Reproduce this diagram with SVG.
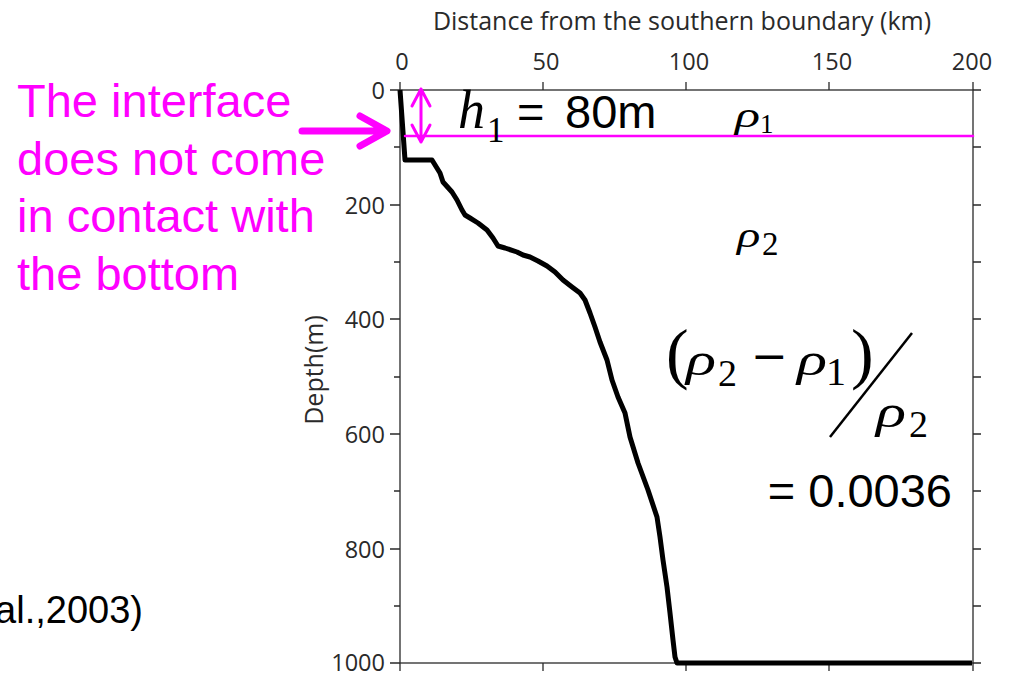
<svg xmlns="http://www.w3.org/2000/svg" width="1009" height="676" viewBox="0 0 1009 676">
<style>
.ax{stroke:#2a2a2a;stroke-width:1.3;fill:none}
.tk{font-family:"Open Sans","Noto Sans",sans-serif;font-size:23.5px;fill:#2a2a2a}
.ttl{font-family:"Open Sans","Noto Sans",sans-serif;font-size:25px;fill:#2a2a2a}
.mag{font-family:"Liberation Sans",Arial,sans-serif;font-size:47px;fill:#ff00ff}
.sans{font-family:"Liberation Sans",Arial,sans-serif;fill:#000}
.it{font-family:"Liberation Serif","Times New Roman",serif;font-style:italic;fill:#000}
.rm{font-family:"Liberation Serif","Times New Roman",serif;fill:#000}
.mline{stroke:#ff00ff;fill:none;stroke-linecap:round;stroke-linejoin:round}
</style>
<rect width="1009" height="676" fill="#fff"/>
<g id="axes">
  <rect class="ax" x="400" y="90" width="573" height="573"/>
  <path class="ax" d="M400 90V82M543 90V82M686 90V82M829 90V82M973 90V82
    M400 663V671M543 663V671M686 663V671M829 663V671M973 663V671
    M400 90H390M400 205H390M400 319H390M400 434H390M400 549H390M400 663H390
    M400 147H394M400 262H394M400 377H394M400 491H394M400 606H394
    M973 90H981M973 147H981M973 205H981M973 262H981M973 319H981M973 377H981M973 434H981M973 491H981M973 549H981M973 606H981M973 663H981"/>
  <text class="ttl" x="682" y="30" text-anchor="middle">Distance from the southern boundary (km)</text>
  <g class="tk" text-anchor="middle">
    <text x="402" y="70">0</text>
    <text x="546" y="70">50</text>
    <text x="689" y="70">100</text>
    <text x="832" y="70">150</text>
    <text x="972" y="70">200</text>
  </g>
  <g class="tk" text-anchor="end">
    <text x="385" y="99">0</text>
    <text x="385" y="213.5">200</text>
    <text x="385" y="328">400</text>
    <text x="385" y="443">600</text>
    <text x="385" y="557.5">800</text>
    <text x="385" y="671">1000</text>
  </g>
  <text class="tk" transform="translate(323,370) rotate(-90)" text-anchor="middle" style="font-size:25px">Depth(m)</text>
</g>
<g id="profile">
  <polyline fill="none" stroke="#000" stroke-width="5" stroke-linejoin="round" stroke-linecap="butt"
    points="400,90 405,160 432,160 440,173 443,182 452,192 457,200 462,210 465,215 470,218 478,223 487,230 493,238 498,246 505,248 517,252 523,255 530,257 538,261 547,266 555,272 563,280 572,287 580,293 585,300 590,313 595,327 600,342 607,360 612,380 618,397 625,413 630,437 638,463 648,490 657,517 660,537 663,560 667,587 670,613 673,640 675,657 677,663 972,663"/>
</g>
<g id="interface">
  <line class="mline" x1="405" y1="136" x2="973" y2="136" stroke-width="2.5"/>
  <path class="mline" stroke-width="3" d="M421 89V142M412 106L421 89L430 106M412 125L421 142L430 125"/>
</g>
<g id="h1-label">
  <text class="it" x="458" y="128" font-size="54">h</text>
  <text class="rm" x="487" y="142" font-size="35">1</text>
  <text class="sans" y="128" font-size="47"><tspan x="517">=</tspan><tspan x="565">80m</tspan></text>
</g>
<g id="rho1-label">
  <text class="it" transform="translate(735,127) scale(1.45,1)" font-size="36">ρ</text>
  <text class="rm" x="760" y="133" font-size="27">1</text>
</g>
<g id="rho2-label">
  <text class="it" transform="translate(737,247) scale(1.35,1)" font-size="36">ρ</text>
  <text class="rm" x="762" y="255" font-size="33">2</text>
</g>
<g id="formula">
  <text class="rm" x="666" y="376" font-size="68">(</text>
  <text class="it" transform="translate(686,375) scale(1.36,1)" font-size="46">ρ</text>
  <text class="rm" x="718" y="386" font-size="38">2</text>
  <text x="751" y="371" font-size="44" style="font-family:'DejaVu Serif',serif" fill="#000">−</text>
  <text class="it" transform="translate(797,375) scale(1.36,1)" font-size="46">ρ</text>
  <text class="rm" x="826" y="385" font-size="40">1</text>
  <text class="rm" x="851" y="376" font-size="68">)</text>
  <line x1="830" y1="437" x2="912" y2="333" stroke="#000" stroke-width="2.5"/>
  <text class="it" transform="translate(876,427) scale(1.36,1)" font-size="46">ρ</text>
  <text class="rm" x="909" y="437" font-size="38">2</text>
  <text class="sans" x="952" y="507" font-size="47" text-anchor="end">= 0.0036</text>
</g>
<g id="callout">
  <text class="mag" x="17" y="117">The interface</text>
  <text class="mag" x="17" y="174.5">does not come</text>
  <text class="mag" x="17" y="232">in contact with</text>
  <text class="mag" x="17" y="289.5">the bottom</text>
  <path class="mline" stroke-width="7" d="M302 131H385M360 116L387 131L360 146"/>
</g>
<text class="sans" x="143" y="623" font-size="38" text-anchor="end">al.,2003)</text>
</svg>
